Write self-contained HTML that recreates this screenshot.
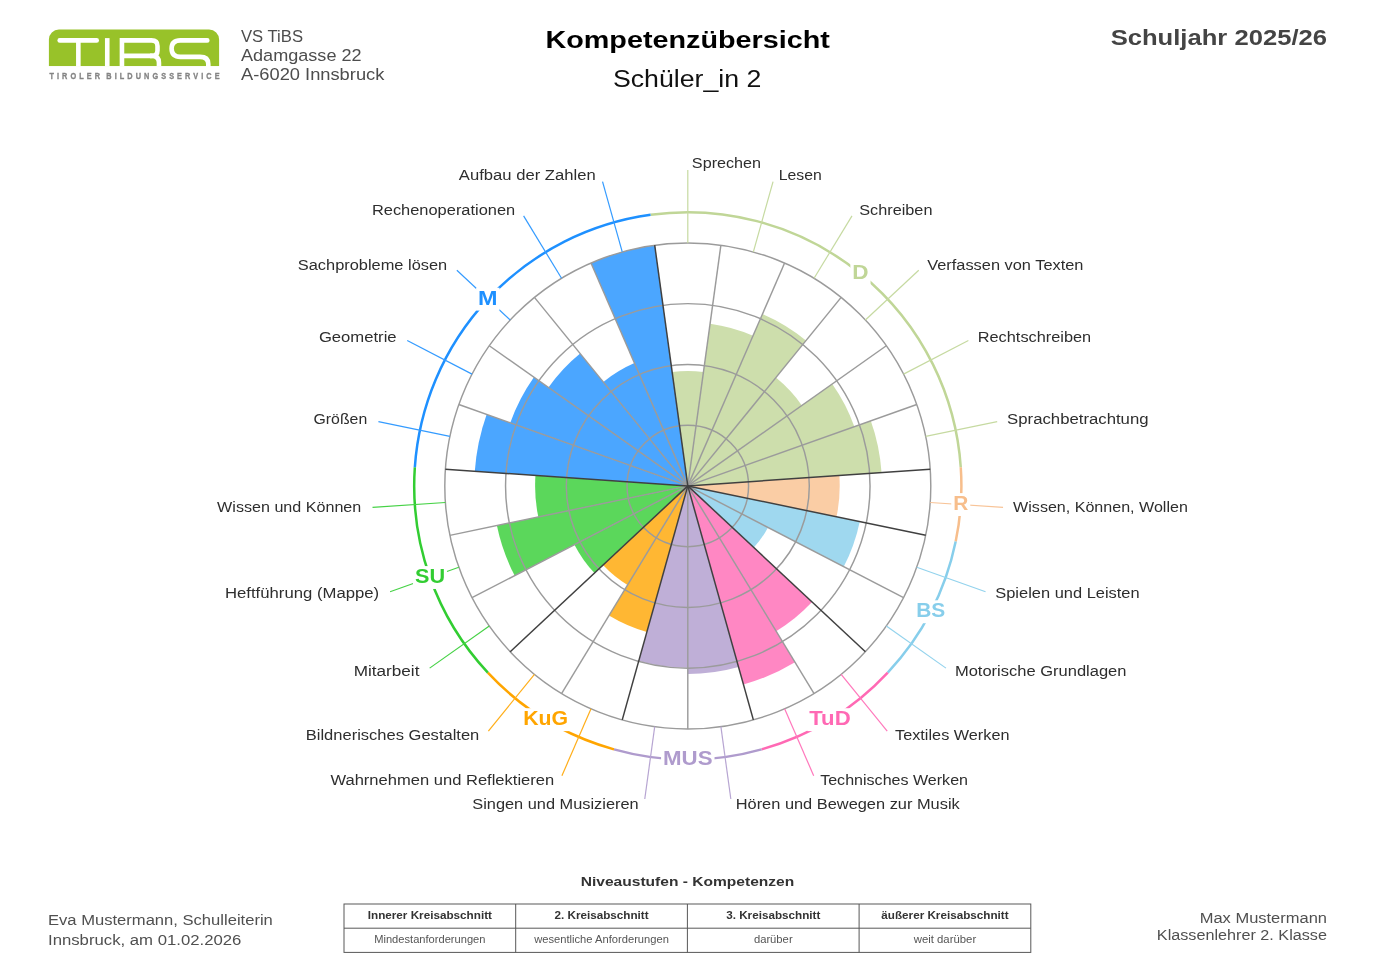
<!DOCTYPE html>
<html><head><meta charset="utf-8"><title>Kompetenzübersicht</title>
<style>
html,body{margin:0;padding:0;background:#fff;}
body{width:1375px;height:972px;overflow:hidden;font-family:"Liberation Sans",sans-serif;}
svg{display:block;font-family:"Liberation Sans",sans-serif;will-change:transform;}
</style></head><body>
<svg width="1375" height="972" viewBox="0 0 1375 972">
<rect width="1375" height="972" fill="#fff"/>
<g>
<path d="M48.9,66.2V39.6a10,10 0 0 1 10,-10H209.1a10,10 0 0 1 10,10V66.2Z" fill="#98c229"/>
<g fill="none" stroke="#fff" stroke-width="4.6" stroke-linejoin="miter">
<path d="M59.7,40.4H96.7" stroke-linecap="round"/>
<path d="M78.35,40.4V66.2"/>
<path d="M107.25,38.1V66.2"/>
<path d="M121.95,66.2V40.4H151.5Q157.5,40.4 157.5,46V50.4Q157.5,55.9 151.5,55.9H121.95"/>
<path d="M150,55.9H152Q158.95,55.9 158.95,62.8V66.2"/>
<path d="M207.3,40.4H180.5Q171.6,40.4 171.6,48.6Q171.6,56.9 180.5,56.9H200Q208.3,56.9 208.3,64V66.2" stroke-linecap="round"/>
</g>
<rect x="48" y="66.2" width="172" height="3" fill="#fff"/>
</g>
<text transform="translate(49.4,78.7) scale(0.74,1)" x="0" y="0" font-size="9.9" font-weight="bold" fill="#848484" stroke="#848484" stroke-width="0.35" textLength="230" lengthAdjust="spacing" word-spacing="-2.4">TIROLER BILDUNGSSERVICE</text>
<text x="241" y="41.8" font-size="16.8" text-anchor="start" fill="#4d4d4d" textLength="62.02" lengthAdjust="spacingAndGlyphs">VS TiBS</text>
<text x="241" y="60.9" font-size="16.8" text-anchor="start" fill="#4d4d4d" textLength="120.57" lengthAdjust="spacingAndGlyphs">Adamgasse 22</text>
<text x="241" y="80.1" font-size="16.8" text-anchor="start" fill="#4d4d4d" textLength="143.34" lengthAdjust="spacingAndGlyphs">A-6020 Innsbruck</text>
<text x="687.7" y="47.8" font-size="24.7" text-anchor="middle" fill="#000" font-weight="bold" textLength="284.44" lengthAdjust="spacingAndGlyphs">Kompetenzübersicht</text>
<text x="687.2" y="86.7" font-size="24.8" text-anchor="middle" fill="#111" textLength="148.49" lengthAdjust="spacingAndGlyphs">Schüler_in 2</text>
<text x="1327" y="44.9" font-size="21.7" text-anchor="end" fill="#444" font-weight="bold" textLength="216.34" lengthAdjust="spacingAndGlyphs">Schuljahr 2025/26</text>
<path d="M687.8,485.9L672.14,371.97A115,115 0 0 1 703.46,371.97Z" fill="#cddeac"/>
<path d="M687.8,485.9L710.1,323.63A163.8,163.8 0 0 1 753.06,335.66Z" fill="#cddeac"/>
<path d="M687.8,485.9L762.42,314.11A187.3,187.3 0 0 1 806,340.61Z" fill="#cddeac"/>
<path d="M687.8,485.9L775.9,377.61A139.6,139.6 0 0 1 801.85,405.4Z" fill="#cddeac"/>
<path d="M687.8,485.9L832.24,383.94A176.8,176.8 0 0 1 854.39,426.69Z" fill="#cddeac"/>
<path d="M687.8,485.9L870.79,420.87A194.2,194.2 0 0 1 881.55,472.65Z" fill="#cddeac"/>
<path d="M687.8,485.9L839.35,475.53A151.9,151.9 0 0 1 836.52,516.8Z" fill="#facda5"/>
<path d="M687.8,485.9L859.73,521.63A175.6,175.6 0 0 1 843.71,566.69Z" fill="#9fd8ef"/>
<path d="M687.8,485.9L767.98,527.44A90.3,90.3 0 0 1 753.79,547.53Z" fill="#9fd8ef"/>
<path d="M687.8,485.9L812.04,601.93A170,170 0 0 1 776.13,631.15Z" fill="#ff87c3"/>
<path d="M687.8,485.9L794.99,662.17A206.3,206.3 0 0 1 743.46,684.55Z" fill="#ff87c3"/>
<path d="M687.8,485.9L738.55,667.02A188.1,188.1 0 0 1 687.8,674Z" fill="#bfafd7"/>
<path d="M687.8,485.9L687.8,667.8A181.9,181.9 0 0 1 638.72,661.05Z" fill="#bfafd7"/>
<path d="M687.8,485.9L646.87,631.97A151.7,151.7 0 0 1 608.98,615.52Z" fill="#ffb733"/>
<path d="M687.8,485.9L627.53,585.01A116,116 0 0 1 603.02,565.08Z" fill="#ffb733"/>
<path d="M687.8,485.9L594.47,573.06A127.7,127.7 0 0 1 574.42,544.65Z" fill="#5bd75b"/>
<path d="M687.8,485.9L514.66,575.61A195,195 0 0 1 496.88,525.57Z" fill="#5bd75b"/>
<path d="M687.8,485.9L538.29,516.97A152.7,152.7 0 0 1 535.46,475.48Z" fill="#5bd75b"/>
<path d="M687.8,485.9L474.8,471.33A213.5,213.5 0 0 1 486.63,414.4Z" fill="#4ba6ff"/>
<path d="M687.8,485.9L510.28,422.81A188.4,188.4 0 0 1 533.88,377.25Z" fill="#4ba6ff"/>
<path d="M687.8,485.9L548.42,387.52A170.6,170.6 0 0 1 580.14,353.56Z" fill="#4ba6ff"/>
<path d="M687.8,485.9L603.3,382.03A133.9,133.9 0 0 1 634.45,363.09Z" fill="#4ba6ff"/>
<path d="M687.8,485.9L590.99,263.02A243,243 0 0 1 654.71,245.16Z" fill="#4ba6ff"/>
<circle cx="687.8" cy="485.9" r="60.75" fill="none" stroke="#9b9b9b" stroke-width="1.45"/>
<circle cx="687.8" cy="485.9" r="121.5" fill="none" stroke="#9b9b9b" stroke-width="1.45"/>
<circle cx="687.8" cy="485.9" r="182.25" fill="none" stroke="#9b9b9b" stroke-width="1.45"/>
<circle cx="687.8" cy="485.9" r="243" fill="none" stroke="#9b9b9b" stroke-width="1.45"/>
<line x1="687.8" y1="485.9" x2="720.89" y2="245.16" stroke="#9b9b9b" stroke-width="1.45"/>
<line x1="687.8" y1="485.9" x2="784.61" y2="263.02" stroke="#9b9b9b" stroke-width="1.45"/>
<line x1="687.8" y1="485.9" x2="841.15" y2="297.4" stroke="#9b9b9b" stroke-width="1.45"/>
<line x1="687.8" y1="485.9" x2="886.32" y2="345.77" stroke="#9b9b9b" stroke-width="1.45"/>
<line x1="687.8" y1="485.9" x2="916.77" y2="404.52" stroke="#9b9b9b" stroke-width="1.45"/>
<line x1="687.8" y1="485.9" x2="903.56" y2="597.7" stroke="#9b9b9b" stroke-width="1.45"/>
<line x1="687.8" y1="485.9" x2="814.06" y2="693.52" stroke="#9b9b9b" stroke-width="1.45"/>
<line x1="687.8" y1="485.9" x2="687.8" y2="728.9" stroke="#9b9b9b" stroke-width="1.45"/>
<line x1="687.8" y1="485.9" x2="561.54" y2="693.52" stroke="#9b9b9b" stroke-width="1.45"/>
<line x1="687.8" y1="485.9" x2="472.04" y2="597.7" stroke="#9b9b9b" stroke-width="1.45"/>
<line x1="687.8" y1="485.9" x2="449.88" y2="535.34" stroke="#9b9b9b" stroke-width="1.45"/>
<line x1="687.8" y1="485.9" x2="458.83" y2="404.52" stroke="#9b9b9b" stroke-width="1.45"/>
<line x1="687.8" y1="485.9" x2="489.28" y2="345.77" stroke="#9b9b9b" stroke-width="1.45"/>
<line x1="687.8" y1="485.9" x2="534.45" y2="297.4" stroke="#9b9b9b" stroke-width="1.45"/>
<line x1="687.8" y1="485.9" x2="590.99" y2="263.02" stroke="#9b9b9b" stroke-width="1.45"/>
<line x1="687.8" y1="485.9" x2="654.71" y2="245.16" stroke="#404040" stroke-width="1.5"/>
<line x1="687.8" y1="485.9" x2="930.23" y2="469.32" stroke="#404040" stroke-width="1.5"/>
<line x1="687.8" y1="485.9" x2="925.72" y2="535.34" stroke="#404040" stroke-width="1.5"/>
<line x1="687.8" y1="485.9" x2="865.39" y2="651.76" stroke="#404040" stroke-width="1.5"/>
<line x1="687.8" y1="485.9" x2="753.36" y2="719.89" stroke="#404040" stroke-width="1.5"/>
<line x1="687.8" y1="485.9" x2="622.24" y2="719.89" stroke="#404040" stroke-width="1.5"/>
<line x1="687.8" y1="485.9" x2="510.21" y2="651.76" stroke="#404040" stroke-width="1.5"/>
<line x1="687.8" y1="485.9" x2="445.37" y2="469.32" stroke="#404040" stroke-width="1.5"/>
<path d="M650.54,214.85A273.6,273.6 0 0 1 960.76,467.23" fill="none" stroke="#c0d697" stroke-width="2.5"/>
<path d="M960.76,467.23A273.6,273.6 0 0 1 955.68,541.57" fill="none" stroke="#f7be8c" stroke-width="2.5"/>
<path d="M955.68,541.57A273.6,273.6 0 0 1 887.76,672.65" fill="none" stroke="#87ceeb" stroke-width="2.5"/>
<path d="M887.76,672.65A273.6,273.6 0 0 1 761.62,749.35" fill="none" stroke="#ff69b4" stroke-width="2.5"/>
<path d="M761.62,749.35A273.6,273.6 0 0 1 613.98,749.35" fill="none" stroke="#af9bcd" stroke-width="2.5"/>
<path d="M613.98,749.35A273.6,273.6 0 0 1 487.84,672.65" fill="none" stroke="#ffa500" stroke-width="2.5"/>
<path d="M487.84,672.65A273.6,273.6 0 0 1 414.84,467.23" fill="none" stroke="#32cd32" stroke-width="2.5"/>
<path d="M414.84,467.23A273.6,273.6 0 0 1 650.54,214.85" fill="none" stroke="#1e90ff" stroke-width="2.5"/>
<line x1="687.8" y1="242.9" x2="687.8" y2="169.9" stroke="#c6daa1" stroke-width="1.2"/>
<line x1="753.36" y1="251.91" x2="773.06" y2="181.62" stroke="#c6daa1" stroke-width="1.2"/>
<line x1="814.06" y1="278.28" x2="851.99" y2="215.9" stroke="#c6daa1" stroke-width="1.2"/>
<line x1="865.39" y1="320.04" x2="918.74" y2="270.21" stroke="#c6daa1" stroke-width="1.2"/>
<line x1="903.56" y1="374.1" x2="968.37" y2="340.52" stroke="#c6daa1" stroke-width="1.2"/>
<line x1="925.72" y1="436.46" x2="997.19" y2="421.61" stroke="#c6daa1" stroke-width="1.2"/>
<line x1="930.23" y1="502.48" x2="1003.06" y2="507.46" stroke="#f8c498" stroke-width="1.2"/>
<line x1="916.77" y1="567.28" x2="985.55" y2="591.72" stroke="#93d3ed" stroke-width="1.2"/>
<line x1="886.32" y1="626.03" x2="945.96" y2="668.13" stroke="#93d3ed" stroke-width="1.2"/>
<line x1="841.15" y1="674.4" x2="887.22" y2="731.02" stroke="#ff78bc" stroke-width="1.2"/>
<line x1="784.61" y1="708.78" x2="813.69" y2="775.74" stroke="#ff78bc" stroke-width="1.2"/>
<line x1="720.89" y1="726.64" x2="730.83" y2="798.96" stroke="#b7a5d2" stroke-width="1.2"/>
<line x1="654.71" y1="726.64" x2="644.77" y2="798.96" stroke="#b7a5d2" stroke-width="1.2"/>
<line x1="590.99" y1="708.78" x2="561.91" y2="775.74" stroke="#ffae19" stroke-width="1.2"/>
<line x1="534.45" y1="674.4" x2="488.38" y2="731.02" stroke="#ffae19" stroke-width="1.2"/>
<line x1="489.28" y1="626.03" x2="429.64" y2="668.13" stroke="#46d246" stroke-width="1.2"/>
<line x1="458.83" y1="567.28" x2="390.05" y2="591.72" stroke="#46d246" stroke-width="1.2"/>
<line x1="445.37" y1="502.48" x2="372.54" y2="507.46" stroke="#46d246" stroke-width="1.2"/>
<line x1="449.88" y1="436.46" x2="378.41" y2="421.61" stroke="#349bff" stroke-width="1.2"/>
<line x1="472.04" y1="374.1" x2="407.23" y2="340.52" stroke="#349bff" stroke-width="1.2"/>
<line x1="510.21" y1="320.04" x2="456.86" y2="270.21" stroke="#349bff" stroke-width="1.2"/>
<line x1="561.54" y1="278.28" x2="523.61" y2="215.9" stroke="#349bff" stroke-width="1.2"/>
<line x1="622.24" y1="251.91" x2="602.54" y2="181.62" stroke="#349bff" stroke-width="1.2"/>
<rect x="850.37" y="262.22" width="20.19" height="22.89" fill="#fff"/>
<text x="860.47" y="279.06" font-size="19.99" text-anchor="middle" fill="#c0d697" font-weight="bold" textLength="16.27" lengthAdjust="spacingAndGlyphs">D</text>
<rect x="951.26" y="493.12" width="19.01" height="22.89" fill="#fff"/>
<text x="960.76" y="509.96" font-size="19.99" text-anchor="middle" fill="#f7be8c" font-weight="bold" textLength="15.09" lengthAdjust="spacingAndGlyphs">R</text>
<rect x="914.24" y="600.33" width="32.98" height="22.89" fill="#fff"/>
<text x="930.73" y="617.16" font-size="19.99" text-anchor="middle" fill="#87ceeb" font-weight="bold" textLength="29.06" lengthAdjust="spacingAndGlyphs">BS</text>
<rect x="807.28" y="708.22" width="45.36" height="22.89" fill="#fff"/>
<text x="829.96" y="725.06" font-size="19.99" text-anchor="middle" fill="#ff69b4" font-weight="bold" textLength="41.44" lengthAdjust="spacingAndGlyphs">TuD</text>
<rect x="661.07" y="748.05" width="53.46" height="22.89" fill="#fff"/>
<text x="687.8" y="764.89" font-size="19.99" text-anchor="middle" fill="#af9bcd" font-weight="bold" textLength="49.54" lengthAdjust="spacingAndGlyphs">MUS</text>
<rect x="521.24" y="708.22" width="48.8" height="22.89" fill="#fff"/>
<text x="545.64" y="725.06" font-size="19.99" text-anchor="middle" fill="#ffa500" font-weight="bold" textLength="44.88" lengthAdjust="spacingAndGlyphs">KuG</text>
<rect x="413.02" y="566.08" width="33.95" height="22.89" fill="#fff"/>
<text x="430" y="582.91" font-size="19.99" text-anchor="middle" fill="#32cd32" font-weight="bold" textLength="30.03" lengthAdjust="spacingAndGlyphs">SU</text>
<rect x="476.13" y="287.71" width="23.42" height="22.89" fill="#fff"/>
<text x="487.84" y="304.54" font-size="19.99" text-anchor="middle" fill="#1e90ff" font-weight="bold" textLength="19.5" lengthAdjust="spacingAndGlyphs">M</text>
<text x="691.87" y="167.94" font-size="15.2" text-anchor="start" fill="#2e2e2e" textLength="69.19" lengthAdjust="spacingAndGlyphs">Sprechen</text>
<text x="778.75" y="179.88" font-size="15.2" text-anchor="start" fill="#2e2e2e" textLength="42.99" lengthAdjust="spacingAndGlyphs">Lesen</text>
<text x="859.18" y="214.82" font-size="15.2" text-anchor="start" fill="#2e2e2e" textLength="73.27" lengthAdjust="spacingAndGlyphs">Schreiben</text>
<text x="927.2" y="270.16" font-size="15.2" text-anchor="start" fill="#2e2e2e" textLength="156.31" lengthAdjust="spacingAndGlyphs">Verfassen von Texten</text>
<text x="977.77" y="341.8" font-size="15.2" text-anchor="start" fill="#2e2e2e" textLength="113.36" lengthAdjust="spacingAndGlyphs">Rechtschreiben</text>
<text x="1007.14" y="424.43" font-size="15.2" text-anchor="start" fill="#2e2e2e" textLength="141.43" lengthAdjust="spacingAndGlyphs">Sprachbetrachtung</text>
<text x="1013.12" y="511.92" font-size="15.2" text-anchor="start" fill="#2e2e2e" textLength="174.76" lengthAdjust="spacingAndGlyphs">Wissen, Können, Wollen</text>
<text x="995.28" y="597.77" font-size="15.2" text-anchor="start" fill="#2e2e2e" textLength="144.39" lengthAdjust="spacingAndGlyphs">Spielen und Leisten</text>
<text x="954.94" y="675.63" font-size="15.2" text-anchor="start" fill="#2e2e2e" textLength="171.52" lengthAdjust="spacingAndGlyphs">Motorische Grundlagen</text>
<text x="895.08" y="739.72" font-size="15.2" text-anchor="start" fill="#2e2e2e" textLength="114.38" lengthAdjust="spacingAndGlyphs">Textiles Werken</text>
<text x="820.16" y="785.28" font-size="15.2" text-anchor="start" fill="#2e2e2e" textLength="147.87" lengthAdjust="spacingAndGlyphs">Technisches Werken</text>
<text x="735.72" y="808.94" font-size="15.2" text-anchor="start" fill="#2e2e2e" textLength="224" lengthAdjust="spacingAndGlyphs">Hören und Bewegen zur Musik</text>
<text x="638.68" y="808.94" font-size="15.2" text-anchor="end" fill="#2e2e2e" textLength="166.4" lengthAdjust="spacingAndGlyphs">Singen und Musizieren</text>
<text x="554.24" y="785.28" font-size="15.2" text-anchor="end" fill="#2e2e2e" textLength="223.76" lengthAdjust="spacingAndGlyphs">Wahrnehmen und Reflektieren</text>
<text x="479.32" y="739.72" font-size="15.2" text-anchor="end" fill="#2e2e2e" textLength="173.58" lengthAdjust="spacingAndGlyphs">Bildnerisches Gestalten</text>
<text x="419.46" y="675.63" font-size="15.2" text-anchor="end" fill="#2e2e2e" textLength="65.81" lengthAdjust="spacingAndGlyphs">Mitarbeit</text>
<text x="379.12" y="597.77" font-size="15.2" text-anchor="end" fill="#2e2e2e" textLength="154.14" lengthAdjust="spacingAndGlyphs">Heftführung (Mappe)</text>
<text x="361.28" y="511.92" font-size="15.2" text-anchor="end" fill="#2e2e2e" textLength="144.18" lengthAdjust="spacingAndGlyphs">Wissen und Können</text>
<text x="367.26" y="424.43" font-size="15.2" text-anchor="end" fill="#2e2e2e" textLength="53.73" lengthAdjust="spacingAndGlyphs">Größen</text>
<text x="396.63" y="341.8" font-size="15.2" text-anchor="end" fill="#2e2e2e" textLength="77.73" lengthAdjust="spacingAndGlyphs">Geometrie</text>
<text x="447.2" y="270.16" font-size="15.2" text-anchor="end" fill="#2e2e2e" textLength="149.38" lengthAdjust="spacingAndGlyphs">Sachprobleme lösen</text>
<text x="515.22" y="214.82" font-size="15.2" text-anchor="end" fill="#2e2e2e" textLength="143.3" lengthAdjust="spacingAndGlyphs">Rechenoperationen</text>
<text x="595.65" y="179.88" font-size="15.2" text-anchor="end" fill="#2e2e2e" textLength="136.81" lengthAdjust="spacingAndGlyphs">Aufbau der Zahlen</text>
<text x="48" y="924.7" font-size="15.2" text-anchor="start" fill="#505050" textLength="224.82" lengthAdjust="spacingAndGlyphs">Eva Mustermann, Schulleiterin</text>
<text x="48" y="944.5" font-size="15.2" text-anchor="start" fill="#505050" textLength="193.43" lengthAdjust="spacingAndGlyphs">Innsbruck, am 01.02.2026</text>
<text x="1327" y="922.9" font-size="15.2" text-anchor="end" fill="#505050" textLength="127.28" lengthAdjust="spacingAndGlyphs">Max Mustermann</text>
<text x="1327" y="940" font-size="15.2" text-anchor="end" fill="#505050" textLength="170.13" lengthAdjust="spacingAndGlyphs">Klassenlehrer 2. Klasse</text>
<text x="687.5" y="886" font-size="13.4" text-anchor="middle" fill="#333" font-weight="bold" textLength="213.55" lengthAdjust="spacingAndGlyphs">Niveaustufen - Kompetenzen</text>
<rect x="344.0" y="904.0" width="686.8" height="48.4" fill="none" stroke="#585858" stroke-width="1"/>
<line x1="344.0" y1="928.2" x2="1030.8" y2="928.2" stroke="#585858" stroke-width="1"/>
<line x1="515.7" y1="904.0" x2="515.7" y2="952.4" stroke="#585858" stroke-width="1"/>
<line x1="687.4" y1="904.0" x2="687.4" y2="952.4" stroke="#585858" stroke-width="1"/>
<line x1="859.1" y1="904.0" x2="859.1" y2="952.4" stroke="#585858" stroke-width="1"/>
<text x="429.85" y="918.8" font-size="10.1" text-anchor="middle" fill="#333" font-weight="bold" textLength="124.19" lengthAdjust="spacingAndGlyphs">Innerer Kreisabschnitt</text>
<text x="429.85" y="943" font-size="10.1" text-anchor="middle" fill="#555" textLength="111.27" lengthAdjust="spacingAndGlyphs">Mindestanforderungen</text>
<text x="601.55" y="918.8" font-size="10.1" text-anchor="middle" fill="#333" font-weight="bold" textLength="94.17" lengthAdjust="spacingAndGlyphs">2. Kreisabschnitt</text>
<text x="601.55" y="943" font-size="10.1" text-anchor="middle" fill="#555" textLength="134.8" lengthAdjust="spacingAndGlyphs">wesentliche Anforderungen</text>
<text x="773.25" y="918.8" font-size="10.1" text-anchor="middle" fill="#333" font-weight="bold" textLength="94.17" lengthAdjust="spacingAndGlyphs">3. Kreisabschnitt</text>
<text x="773.25" y="943" font-size="10.1" text-anchor="middle" fill="#555" textLength="38.75" lengthAdjust="spacingAndGlyphs">darüber</text>
<text x="944.95" y="918.8" font-size="10.1" text-anchor="middle" fill="#333" font-weight="bold" textLength="127.23" lengthAdjust="spacingAndGlyphs">äußerer Kreisabschnitt</text>
<text x="944.95" y="943" font-size="10.1" text-anchor="middle" fill="#555" textLength="62.47" lengthAdjust="spacingAndGlyphs">weit darüber</text>
</svg>
</body></html>
